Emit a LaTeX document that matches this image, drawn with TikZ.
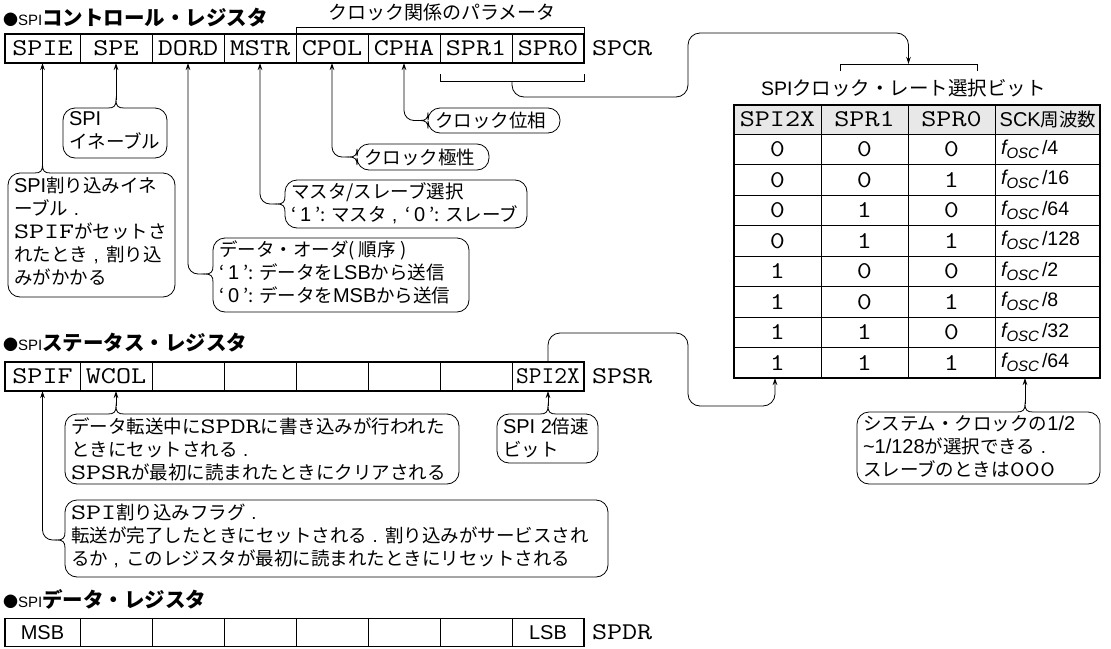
\documentclass[tikz,border=0pt]{standalone}
\usepackage{fontspec}
\usepackage{graphicx}
\setmainfont{Noto Sans CJK JP}
\newfontfamily\lsans{Liberation Sans}
\usetikzlibrary{arrows.meta}
\newcommand\tm[1]{\scalebox{1.33}[1]{\fontsize{22}{22}\selectfont\ttfamily #1}}
\newcommand\tr[1]{\scalebox{1.22}[1]{\fontsize{24}{24}\selectfont\ttfamily #1}}
\newcommand\trn[1]{\scalebox{1.03}[1]{\fontsize{24}{24}\selectfont\ttfamily #1}}
\newcommand\ls[1]{{\lsans\fontsize{20}{20}\selectfont #1}}
\newcommand\fosc[1]{{\lsans\itshape\fontsize{20}{20}\selectfont f}\raisebox{-4pt}{\lsans\itshape\fontsize{15}{15}\selectfont OSC}\hspace{3pt}{\lsans\fontsize{19.5}{19.5}\selectfont /#1}}
\newcommand\jpd{\hspace{0.3em}{\lsans .}\hspace{0.42em}}
\newcommand\jpc{\hspace{0.3em}{\lsans ,}\hspace{0.42em}}
\newcommand\qt[1]{‘\hspace{4pt}\ls{#1}\hspace{4pt}’}
% callout with notch on top edge: name L T R B x
\newcommand\calltop[6]{%
  \coordinate (#1) at (#6,{#3-8});
  \draw[cbox] ({#6-8},#3) .. controls ({#6-2},#3) and (#6,{#3-2}) .. (#1)
    .. controls (#6,{#3-2}) and ({#6+2},#3) .. ({#6+8},#3)
    [rounded corners=12pt] -- (#4,#3) -- (#4,#5) -- (#2,#5) -- (#2,#3) -- ({#6-8},#3);}
% callout with notch on left edge: name L T R B y
\newcommand\callleft[6]{%
  \coordinate (#1) at ({#2-8},#6);
  \draw[cbox] (#2,{#6+8}) .. controls (#2,{#6+2}) and ({#2-2},#6) .. (#1)
    .. controls ({#2-2},#6) and (#2,{#6-2}) .. (#2,{#6-8})
    [rounded corners=12pt] -- (#2,#3) -- (#4,#3) -- (#4,#5) -- (#2,#5) -- (#2,{#6+8});}
\begin{document}
\begin{tikzpicture}[x=1pt,y=-1pt,
  every node/.style={inner sep=0pt, outer sep=0pt},
  jp/.style={font=\fontsize{18.5}{23}\selectfont, align=left},
  cell/.style={draw, line width=0.7pt, inner sep=0pt},
  outer/.style={draw, line width=1.5pt},
  cbox/.style={line width=0.8pt},
  conn/.style={line width=0.8pt, -{Stealth[length=7pt,width=4.5pt]}},
  brk/.style={line width=0.8pt},
  ttl/.style={anchor=west, font=\fontsize{20.5}{20.5}\selectfont},
  lbl/.style={anchor=west},
]
\useasboundingbox (0,0) rectangle (1111,648);

% ---------------- SPCR ----------------
\node[ttl] (t1) at (3,18) {{\fontsize{15}{15}\selectfont ●}{\lsans\fontsize{15}{15}\selectfont SPI}{\bfseries コントロール・レジスタ}};
\begin{scope}[every node/.append style={cell, minimum height=29pt}]
\node[minimum width=75pt] (spie) at (42.5,48.5) {\tr{SPIE}};
\node[minimum width=72pt] (spe)  at (116,48.5) {\tr{SPE}};
\node[minimum width=72pt] (dord) at (188,48.5) {\tr{DORD}};
\node[minimum width=72pt] (mstr) at (260,48.5) {\tr{MSTR}};
\node[minimum width=72pt] (cpol) at (332,48.5) {\tr{CPOL}};
\node[minimum width=72pt] (cpha) at (404,48.5) {\tr{CPHA}};
\node[minimum width=72pt] (spr1) at (476,48.5) {\tr{SPR1}};
\node[minimum width=72pt] (spr0) at (548,48.5) {\tr{SPR0}};
\end{scope}
\draw[outer] (spie.north west) rectangle (spr0.south east);
\node[lbl] (spcr) at (592,48.5) {\tr{SPCR}};

% clock parameter bracket
\draw[brk] (296,34) -- (296,27) -- (584,27) -- (584,34);
\node[font=\fontsize{19}{19}\selectfont] (clkp) at (442,12) {クロック関係のパラメータ};
% SPR bracket
\draw[brk] (440,74) -- (440,81) -- (584,81) -- (584,74);
\coordinate (sprb) at (512,81);

% callouts for SPCR
\calltop{speT}{63}{108}{167}{158}{116}
\node[jp, anchor=north west] (speX) at (69,112) {\ls{SPI}\\イネーブル};
\draw[conn] (speT) -- (spe.south);

\calltop{spieT}{8}{173}{175}{297}{42.5}
\node[jp, anchor=north west] (spieX) at (14,177) {\ls{SPI}割り込みイネ\\ーブル\jpd\\\tm{SPIF}がセットさ\\れたとき\jpc 割り込\\みがかかる};
\draw[conn] (spieT) -- (spie.south);

\callleft{mstrT}{285}{180}{527}{228}{204}
\node[jp, anchor=north west] (mstrX) at (291,183) {マスタ/スレーブ選択\\\qt{1}: マスタ\jpc\qt{0}: スレーブ};
\draw[conn, rounded corners=10pt] (mstrT) -| (mstr.south);

\callleft{dordT}{213}{238}{469}{312}{274}
\node[jp, anchor=north west] (dordX) at (219,241) {データ・オーダ( 順序 )\\\qt{1}: データを\ls{LSB}から送信\\\qt{0}: データを\ls{MSB}から送信};
\draw[conn, rounded corners=10pt] (dordT) -| (dord.south);

\callleft{cpolT}{357}{144}{489}{170}{157}
\node[jp, anchor=west] (cpolX) at (364,157) {クロック極性};
\draw[conn, rounded corners=10pt] (cpolT) -| (cpol.south);

\callleft{cphaT}{428}{108}{560}{133}{120.5}
\node[jp, anchor=west] (cphaX) at (435,120.5) {クロック位相};
\draw[conn, rounded corners=10pt] (cphaT) -| (cpha.south);

% ---------------- Table ----------------
\coordinate (tbrk) at (908.5,64);
\draw[brk] (840,71) -- (840,64) -- (977,64) -- (977,71);
\draw[conn, rounded corners=12pt] (sprb) -- (512,97) -- (688,97) -- (688,33) -- (908.5,33) -- (tbrk);
\node[anchor=west, font=\fontsize{19.5}{19.5}\selectfont] (ttitle) at (761,88) {{\lsans\fontsize{19.5}{19.5}\selectfont SPI}クロック・レート選択ビット};

\fill[black!9] (734,105) rectangle (1100,134);
\foreach \yy in {134,164.5,195,225.5,256,286.5,317,347.5}
  \draw[line width=0.7pt] (734,\yy) -- (1100,\yy);
\foreach \xx in {821,908,995}
  \draw[line width=0.7pt] (\xx,105) -- (\xx,378);
\node[draw, line width=1.5pt, minimum width=366pt, minimum height=273pt] (tbl) at (917,241.5) {};
\node (h1) at (777.5,119.5) {\tr{SPI2X}};
\node (h2) at (864.5,119.5) {\tr{SPR1}};
\node (h3) at (951.5,119.5) {\tr{SPR0}};
\node[font=\fontsize{18.5}{18.5}\selectfont] (h4) at (1048,119.5) {\ls{SCK}周波数};
\foreach \a/\b/\c/\d [count=\i] in {0/0/0/4,0/0/1/16,0/1/0/64,0/1/1/128,1/0/0/2,1/0/1/8,1/1/0/32,1/1/1/64}{
  \pgfmathsetmacro\ry{134+30.5*(\i-0.5)}
  \node (r\i a) at (777.5,\ry) {\tr{\a}};
  \node (r\i b) at (864.5,\ry) {\tr{\b}};
  \node (r\i c) at (951.5,\ry) {\tr{\c}};
  \node[anchor=west] (r\i d) at (1001,\ry) {\fosc{\d}};
}

% ---------------- SPSR ----------------
\node[ttl] (t2) at (3,343) {{\fontsize{15}{15}\selectfont ●}{\lsans\fontsize{15}{15}\selectfont SPI}{\bfseries ステータス・レジスタ}};
\begin{scope}[every node/.append style={cell, minimum height=29pt}]
\node[minimum width=75pt] (spif) at (42.5,376.5) {\tr{SPIF}};
\node[minimum width=72pt] (wcol) at (116,376.5) {\tr{WCOL}};
\node[minimum width=72pt] (s3) at (188,376.5) {};
\node[minimum width=72pt] (s4) at (260,376.5) {};
\node[minimum width=72pt] (s5) at (332,376.5) {};
\node[minimum width=72pt] (s6) at (404,376.5) {};
\node[minimum width=72pt] (s7) at (476,376.5) {};
\node[minimum width=72pt] (spi2x) at (548,376.5) {\trn{SPI2X}};
\end{scope}
\draw[outer] (spif.north west) rectangle (spi2x.south east);
\node[lbl] (spsr) at (592,376.5) {\tr{SPSR}};

\draw[conn, rounded corners=12pt] (spi2x.north) -- (548,333) -- (688,333) -- (688,406) -- (775,406) -- (775,378);

\calltop{wcolT}{65}{414}{459}{484}{116}
\node[jp, anchor=north west] (wcolX) at (71,418) {データ転送中に\tm{SPDR}に書き込みが行われた\\ときにセットされる\jpd\\\tm{SPSR}が最初に読まれたときにクリアされる};
\draw[conn] (wcolT) -- (wcol.south);

\calltop{x2T}{497}{414}{598}{463}{548}
\node[jp, anchor=north west] (x2X) at (503,418) {\ls{SPI 2}倍速\\ビット};
\draw[conn] (x2T) -- (spi2x.south);

\callleft{spifT}{65}{500}{608}{577}{540}
\node[jp, anchor=north west] (spifX) at (71,504) {\tm{SPI}割り込みフラグ\jpd\\転送が完了したときにセットされる\jpd 割り込みがサービスされ\\るか\jpc このレジスタが最初に読まれたときにリセットされる};
\draw[conn, rounded corners=10pt] (spifT) -| (spif.south);

\calltop{sysT}{857}{412}{1100}{484}{1025}
\node[jp, anchor=north west] (sysX) at (863,416) {システム・クロックの\ls{1/2}\\\ls{\textasciitilde 1/128}が選択できる\jpd\\スレーブのときは\tm{000}};
\draw[conn] (sysT) -- (sysT |- tbl.south);

% ---------------- SPDR ----------------
\node[ttl] (t3) at (3,599) {{\fontsize{15}{15}\selectfont ●}{\lsans\fontsize{15}{15}\selectfont SPI}{\bfseries データ・レジスタ}};
\begin{scope}[every node/.append style={cell, minimum height=28pt, font=\fontsize{20}{20}\selectfont}]
\node[minimum width=75pt] (msb) at (42.5,632.5) {\lsans MSB};
\node[minimum width=72pt] (d2) at (116,632.5) {};
\node[minimum width=72pt] (d3) at (188,632.5) {};
\node[minimum width=72pt] (d4) at (260,632.5) {};
\node[minimum width=72pt] (d5) at (332,632.5) {};
\node[minimum width=72pt] (d6) at (404,632.5) {};
\node[minimum width=72pt] (d7) at (476,632.5) {};
\node[minimum width=72pt] (lsb) at (548,632.5) {\lsans LSB};
\end{scope}
\draw[outer] (msb.north west) rectangle (lsb.south east);
\node[lbl] (spdr) at (592,632.5) {\tr{SPDR}};
\end{tikzpicture}
\end{document}
